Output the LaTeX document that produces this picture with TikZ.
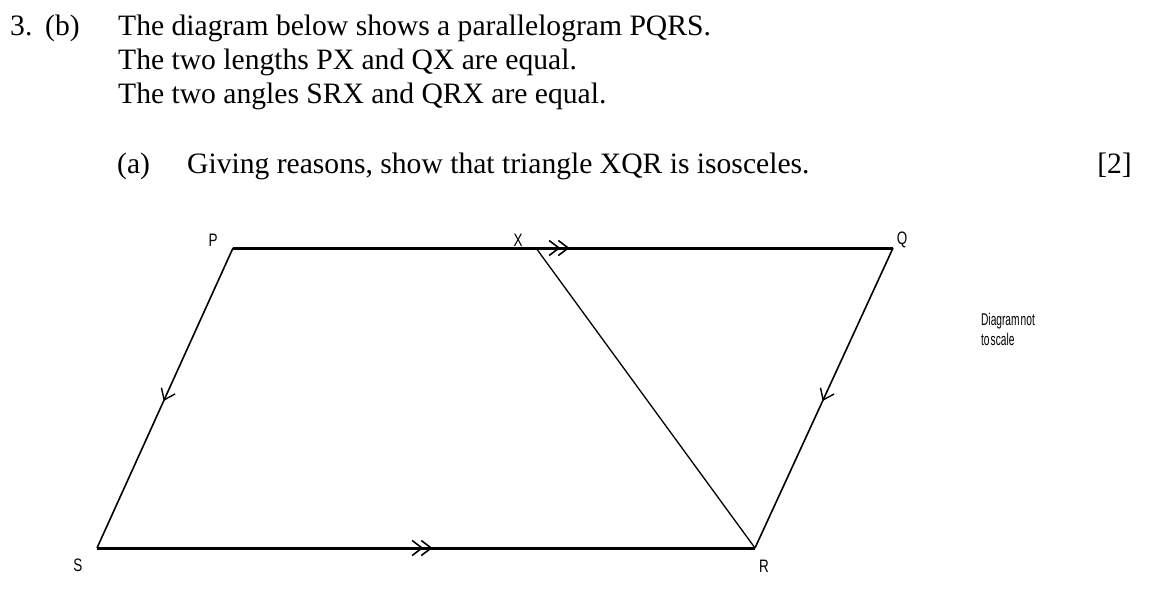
\documentclass[tikz,border=0pt]{standalone}
\usepackage{fontspec}
\setmainfont{Liberation Serif}
\setsansfont{Liberation Sans}
\usetikzlibrary{arrows.meta,decorations.markings,positioning}

\begin{document}
\begin{tikzpicture}[x=1pt,y=-1pt]
  \tikzstyle{every node}=[inner sep=0pt]
  \tikzstyle{line}=[anchor=base west,font=\fontsize{29.6}{34}\selectfont]
  \tikzstyle{vertex}=[font=\sffamily\fontsize{18}{18}\selectfont,xscale=0.75,transform shape]
  \tikzstyle{thick side}=[line width=3pt]
  \tikzstyle{thin side}=[line width=1.6pt]
  \tikzstyle{one tick}=[postaction={decorate,decoration={markings,
      mark=at position 0.51 with {\arrow[line width=1.4pt]{Straight Barb[length=10pt,width=15pt]}}}}]
  \tikzstyle{two ticks}=[postaction={decorate,decoration={markings,
      mark=at position 0.51 with {\arrow[line width=1.6pt]{Straight Barb[length=10pt,width=15pt,sep=-3pt]Straight Barb[length=10pt,width=15pt]}}}}]

  \useasboundingbox (0,0) rectangle (1170,595);

  % question text
  \node[line] (num)  at (10,35)   {3.};
  \node[line] (part) at (45,35)   {(b)};
  \node[line] (l1)   at (118,35)  {The diagram below shows a parallelogram PQRS.};
  \node[line] (l2)   at (118,69)  {The two lengths PX and QX are equal.};
  \node[line] (l3)   at (118,103) {The two angles SRX and QRX are equal.};
  \node[line] (sub)  at (117,173) {(a)};
  \node[line] (task) at (187,173) {Giving reasons, show that triangle XQR is isosceles.};
  \node[line,anchor=base east] (mark) at (1132,173) {[2]};

  % parallelogram
  \coordinate (p) at (233,248);
  \coordinate (q) at (893,248);
  \coordinate (r) at (755,548);
  \coordinate (s) at (97,548);
  \coordinate (x) at (536,248);

  \draw[thick side,two ticks] (p) -- (q);
  \draw[thick side,two ticks] (s) -- (r);
  \draw[thin side,one tick]   (p) -- (s);
  \draw[thin side,one tick]   (q) -- (r);
  \draw[line width=1.3pt]     (x) -- (r);

  \node[vertex] (lp) at (213,240) {P};
  \node[vertex] (lq) at (902,240) {Q};
  \node[vertex] (lx) at (518,240) {X};
  \node[vertex] (lr) at (764,566) {R};
  \node[vertex] (ls) at (78,565)  {S};

  \node[font=\sffamily\fontsize{17}{20}\selectfont,xscale=0.6,transform shape,
        align=left,anchor=north west] (note) at (981,313) {Diagram\hspace{0.1em}not\\to\hspace{0.1em}scale};
\end{tikzpicture}
\end{document}
